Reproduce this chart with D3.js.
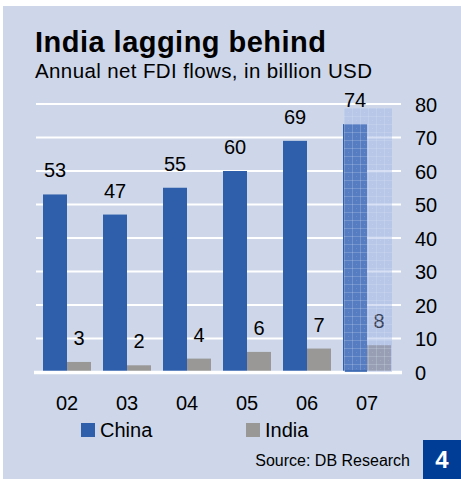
<!DOCTYPE html>
<html>
<head>
<meta charset="utf-8">
<script src="https://cdn.jsdelivr.net/npm/d3@7"></script>
<style>
html,body{margin:0;padding:0;background:#fff;}
svg{display:block;}
text{font-family:"Liberation Sans",Arial,Helvetica,sans-serif;}
</style>
</head>
<body>
<svg id="chart" width="461" height="479"></svg>
<script>
const years = ["02","03","04","05","06","07"];
const china = [53,47,55,60,69,74];
const india = [3,2,4,6,7,8];
const series = ["China","India"];
const yTicks = [0,10,20,30,40,50,60,70,80];
const highlightYear = "07";
const title = "India lagging behind";
const subtitle = "Annual net FDI flows, in billion USD";
const source = "Source: DB Research";
const chartNo = "4";

const colors = {China:"#2f5fab", India:"#999896"};
const svg = d3.select("#chart");

// panel
svg.append("rect").attr("x",3).attr("y",6).attr("width",458).attr("height",473).attr("fill","#cdd7e9");

// pattern for estimate highlight
const defs = svg.append("defs");
const pat = defs.append("pattern").attr("id","hatch").attr("patternUnits","userSpaceOnUse")
  .attr("x",344).attr("y",108).attr("width",8).attr("height",8);
pat.append("rect").attr("width",8).attr("height",8).attr("fill","rgba(150,172,230,0.38)");
pat.append("rect").attr("x",0).attr("y",0).attr("width",1).attr("height",8).attr("fill","rgba(225,232,250,0.22)");
pat.append("rect").attr("x",0).attr("y",0).attr("width",8).attr("height",1).attr("fill","rgba(225,232,250,0.22)");
pat.append("rect").attr("x",4).attr("y",4).attr("width",1).attr("height",1).attr("fill","rgba(255,255,255,0.12)");

const x = d3.scaleBand().domain(years).range([31,403]).paddingInner(0.2).paddingOuter(0.2);
const xs = d3.scaleBand().domain(series).range([0,x.bandwidth()]);
const y = d3.scaleLinear().domain([0,80]).range([372,104]);

// titles
svg.append("text").attr("x",35).attr("y",52).attr("font-size",29).attr("font-weight",900)
  .attr("fill","#000").attr("textLength",291).attr("lengthAdjust","spacing").text(title);
svg.append("text").attr("x",35).attr("y",78).attr("font-size",20.5).attr("fill","#000")
  .attr("textLength",337).attr("lengthAdjust","spacing").text(subtitle);

// gridlines
svg.append("g").selectAll("line").data(yTicks.filter(d=>d>0)).join("line")
  .attr("x1",36).attr("x2",401).attr("y1",d=>y(d)).attr("y2",d=>y(d))
  .attr("stroke","#fff").attr("stroke-width",2.2);

// y axis labels right
const yAxis = d3.axisRight(y).tickValues(yTicks).tickSize(0).tickPadding(0).tickFormat(d3.format("d"));
const gy = svg.append("g").attr("transform","translate(415,0)").call(yAxis);
gy.select(".domain").remove();
gy.selectAll("text").attr("font-size",20).attr("fill","#000").attr("font-family","Liberation Sans, Arial, sans-serif").attr("dy","0.36em");

// bars
const data = years.map((yr,i)=>({year:yr, China:china[i], India:india[i]}));
const groups = svg.append("g").selectAll("g").data(data).join("g")
  .attr("transform",d=>`translate(${x(d.year)},0)`);
groups.selectAll("rect").data(d=>series.map(s=>({s, v:d[s]}))).join("rect")
  .attr("x",d=>xs(d.s)).attr("width",xs.bandwidth())
  .attr("y",d=>y(d.v)).attr("height",d=>y(0)-y(d.v))
  .attr("fill",d=>colors[d.s]);
groups.selectAll("text").data(d=>series.map(s=>({s, v:d[s]}))).join("text")
  .attr("x",d=>xs(d.s)+xs.bandwidth()/2).attr("y",d=>y(d.v)-17)
  .attr("text-anchor","middle").attr("font-size",20).attr("fill","#000").text(d=>d.v);

// baseline
svg.append("line").attr("x1",34).attr("x2",402).attr("y1",y(0)+0.5).attr("y2",y(0)+0.5)
  .attr("stroke","#fff").attr("stroke-width",3.5);

// highlight overlay for estimate year
svg.append("rect").attr("x",x(highlightYear)+1).attr("y",108)
  .attr("width",x.bandwidth()).attr("height",y(0)-108)
  .attr("fill","url(#hatch)");
svg.append("line").attr("x1",x(highlightYear)+2).attr("x2",x(highlightYear)+xs.bandwidth())
  .attr("y1",y(0)-1).attr("y2",y(0)-1).attr("stroke",colors.China).attr("stroke-width",1.5);

// x axis labels
const xAxis = d3.axisBottom(x).tickSize(0).tickPadding(0);
const gx = svg.append("g").attr("transform","translate(0,396)").call(xAxis);
gx.select(".domain").remove();
gx.selectAll("text").attr("font-size",20).attr("fill","#000").attr("font-family","Liberation Sans, Arial, sans-serif").attr("dy","0.71em");

// legend
const legX = {China:81, India:246};
const leg = svg.append("g").selectAll("g").data(series).join("g")
  .attr("transform",d=>`translate(${legX[d]},423)`);
leg.append("rect").attr("width",14).attr("height",14).attr("fill",d=>colors[d]);
leg.append("text").attr("x",19).attr("y",14).attr("font-size",20).attr("fill","#000").text(d=>d);

// source + number box
svg.append("text").attr("x",410).attr("y",466).attr("text-anchor","end").attr("font-size",16).attr("fill","#000").text(source);
svg.append("rect").attr("x",423).attr("y",440).attr("width",38).attr("height",39).attr("fill","#003d97");
svg.append("text").attr("x",442).attr("y",468).attr("text-anchor","middle").attr("font-size",24).attr("font-weight","bold").attr("fill","#fff").text(chartNo);
</script>
</body>
</html>
